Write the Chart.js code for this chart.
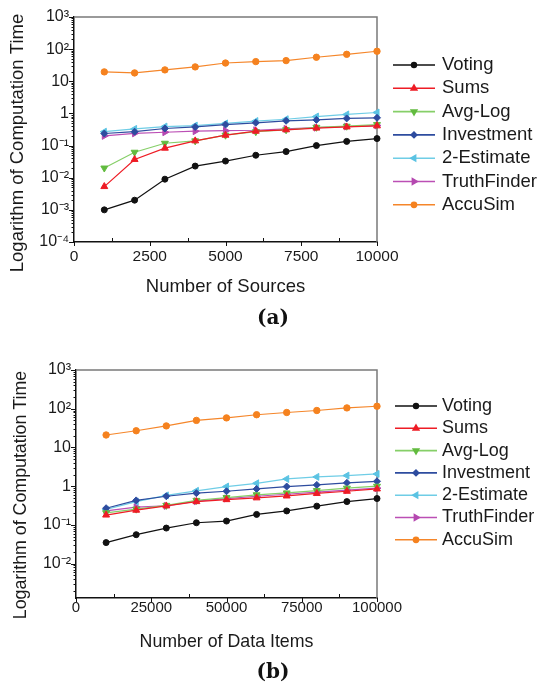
<!DOCTYPE html>
<html>
<head>
<meta charset="utf-8">
<script src="https://cdn.jsdelivr.net/npm/chart.js@4.4.0/dist/chart.umd.min.js"></script>
<style>
  body { margin: 0; background: #fff; width: 541px; height: 683px; position: relative; overflow: hidden; }
  canvas { position: absolute; left: 0; }
  #chartA { top: 0; }
  #chartB { top: 340px; }
  .tag { position: absolute; width: 100px; text-align: center; font: bold 20px "DejaVu Serif", serif; color: #111; }
</style>
</head>
<body>
<canvas id="chartA" width="541" height="330"></canvas>
<canvas id="chartB" width="541" height="343"></canvas>
<div class="tag" style="left:223px; top:305px;">(a)</div>
<div class="tag" style="left:223px; top:659px;">(b)</div>
<script>
// x values
const sourceCounts = [1000, 2000, 3000, 4000, 5000, 6000, 7000, 8000, 9000, 10000];
const itemCounts = [10000, 20000, 30000, 40000, 50000, 60000, 70000, 80000, 90000, 100000];

const methods = ["Voting", "Sums", "Avg-Log", "Investment", "2-Estimate", "TruthFinder", "AccuSim"];

// (a) computation time vs number of sources
const votingA = [0.001, 0.002, 0.009, 0.023, 0.033, 0.05, 0.065, 0.1, 0.135, 0.165];
const sumsA = [0.0053, 0.037, 0.083, 0.14, 0.21, 0.28, 0.31, 0.35, 0.38, 0.41];
const avgLogA = [0.02, 0.062, 0.118, 0.14, 0.21, 0.27, 0.31, 0.37, 0.4, 0.45];
const investmentA = [0.237, 0.27, 0.34, 0.38, 0.45, 0.51, 0.59, 0.63, 0.7, 0.73];
const twoEstimateA = [0.27, 0.33, 0.39, 0.42, 0.49, 0.58, 0.66, 0.8, 0.93, 1.07];
const truthFinderA = [0.2, 0.24, 0.26, 0.28, 0.29, 0.3, 0.33, 0.36, 0.39, 0.42];
const accuSimA = [19.6, 18.2, 22.6, 28, 37, 41, 44, 56, 69, 86];

// (b) computation time vs number of data items
const votingB = [0.035, 0.056, 0.083, 0.114, 0.126, 0.187, 0.23, 0.306, 0.4, 0.48];
const sumsB = [0.18, 0.24, 0.31, 0.4, 0.45, 0.5, 0.56, 0.65, 0.74, 0.85];
const avgLogB = [0.206, 0.256, 0.32, 0.43, 0.51, 0.6, 0.67, 0.77, 0.89, 1.0];
const investmentB = [0.27, 0.43, 0.55, 0.66, 0.74, 0.85, 0.98, 1.08, 1.22, 1.34];
const twoEstimateB = [0.25, 0.4, 0.58, 0.76, 0.98, 1.19, 1.54, 1.74, 1.88, 2.07];
const truthFinderB = [0.23, 0.29, 0.31, 0.41, 0.48, 0.55, 0.62, 0.7, 0.79, 0.89];
const accuSimB = [21, 27, 36, 50, 58, 70, 80, 90, 105, 116];

// tick labels
const decadeValues = [1e-4, 1e-3, 1e-2, 1e-1, 1, 10, 100, 1000];
const decadeLabels = ["10\u207B\u2074", "10\u207B\u00B3", "10\u207B\u00B2", "10\u207B\u00B9", "1", "10", "10\u00B2", "10\u00B3"];

// styles
const lineColors = ["#111111", "#ee1c25", "#86cf68", "#2e4c9f", "#6fcde6", "#bb4fb5", "#f5862a"];
const markColors = ["#111111", "#ee1c25", "#62bb3f", "#2e4c9f", "#5bc3e3", "#b548b0", "#f5821f"];
const markStyles = ["circle", "triangle", "triangle", "rectRot", "triangle", "triangle", "circle"];
const markRotations = [0, 0, 180, 0, 270, 90, 0];
const markRadius = [3, 4, 4, 3.5, 4, 4, 3.2];

const FONT = "'Liberation Sans', Arial, sans-serif";
const Y_TITLE = "Logarithm of Computation Time";

function decadeLabel(v) {
  const i = decadeValues.findIndex(d => Math.abs(d - v) / d < 1e-6);
  return i >= 0 ? decadeLabels[i] : "";
}

const axisDecor = {
  id: "axisDecor",
  beforeDatasetsDraw(chart, args, opts) {
    const { ctx, chartArea: a, scales: { x, y } } = chart;
    ctx.save();
    ctx.strokeStyle = "#7a7a7a";
    ctx.lineWidth = 1.5;
    ctx.beginPath();
    ctx.moveTo(a.left, a.top);
    ctx.lineTo(a.right, a.top);
    ctx.lineTo(a.right, a.bottom);
    ctx.stroke();

    ctx.strokeStyle = "#111";
    ctx.lineWidth = 1;
    const e0 = Math.floor(Math.log10(y.min));
    const e1 = Math.ceil(Math.log10(y.max));
    for (let e = e0; e <= e1; e++) {
      for (let k = 1; k <= 9; k++) {
        const v = k * Math.pow(10, e);
        if (v < y.min * 0.999 || v > y.max * 1.001) continue;
        const py = Math.round(y.getPixelForValue(v)) + 0.5;
        const len = k === 1 ? 5 : 2.5;
        ctx.beginPath();
        ctx.moveTo(a.left - len, py);
        ctx.lineTo(a.left, py);
        ctx.stroke();
      }
    }
    const step = opts.step;
    for (let v = x.min; v <= x.max + 1e-6; v += step / 2) {
      const px = Math.round(x.getPixelForValue(v)) + 0.5;
      const major = Math.abs(v / step - Math.round(v / step)) < 1e-6;
      ctx.beginPath();
      ctx.moveTo(px, a.bottom);
      ctx.lineTo(px, major ? a.bottom + 4 : a.bottom - 4);
      ctx.stroke();
    }

    // y-axis title, sits a bit below the plot centre like the original
    ctx.fillStyle = "#1a1a1a";
    ctx.font = opts.titleSize + "px " + FONT;
    ctx.textAlign = "center";
    ctx.textBaseline = "middle";
    ctx.translate(opts.titleX, opts.titleY);
    ctx.rotate(-Math.PI / 2);
    ctx.fillText(Y_TITLE, 0, 0);
    ctx.restore();
  }
};

const lineLegend = {
  id: "lineLegend",
  afterDraw(chart, args, opts) {
    const ctx = chart.ctx;
    ctx.save();
    ctx.font = opts.font;
    ctx.textBaseline = "middle";
    chart.data.datasets.forEach((ds, i) => {
      const y = opts.top + i * opts.gap;
      ctx.strokeStyle = ds.borderColor;
      ctx.lineWidth = 1.6;
      ctx.beginPath();
      ctx.moveTo(opts.x0, y);
      ctx.lineTo(opts.x1, y);
      ctx.stroke();
      ctx.fillStyle = ds.pointBackgroundColor;
      ctx.strokeStyle = ds.pointBorderColor;
      Chart.helpers.drawPoint(ctx, {
        pointStyle: ds.pointStyle,
        radius: ds.pointRadius * 0.8,
        rotation: ds.pointRotation,
        borderWidth: 1
      }, (opts.x0 + opts.x1) / 2, y);
      ctx.fillStyle = "#1a1a1a";
      ctx.fillText(ds.label, opts.textX, y);
    });
    ctx.restore();
  }
};

function makeDatasets(xs, series) {
  return series.map((vals, i) => ({
    label: methods[i],
    data: xs.map((x, j) => ({ x: x, y: vals[j] })),
    borderColor: lineColors[i],
    backgroundColor: markColors[i],
    pointBackgroundColor: markColors[i],
    pointBorderColor: markColors[i],
    pointStyle: markStyles[i],
    pointRotation: markRotations[i],
    pointRadius: markRadius[i],
    pointBorderWidth: 1,
    borderWidth: 1.2,
    tension: 0,
    clip: 10
  }));
}

function buildChart(id, xs, series, cfg) {
  new Chart(document.getElementById(id), {
    type: "line",
    data: { datasets: makeDatasets(xs, series) },
    plugins: [axisDecor, lineLegend],
    options: {
      responsive: false,
      animation: false,
      layout: { padding: cfg.padding },
      plugins: {
        legend: { display: false },
        tooltip: { enabled: false },
        axisDecor: { step: cfg.xStep, titleX: cfg.yTitleX, titleY: cfg.yTitleY, titleSize: cfg.titleSize },
        lineLegend: cfg.legend
      },
      scales: {
        x: {
          type: "linear",
          min: 0,
          max: cfg.xMax,
          afterFit: s => { s.height = cfg.xHeight; },
          grid: { display: false, drawTicks: false },
          border: { color: "#111", width: 1.5 },
          ticks: {
            stepSize: cfg.xStep,
            padding: cfg.xPad,
            color: "#1a1a1a",
            font: { family: FONT, size: cfg.tickSize },
            callback: v => String(v)
          },
          title: {
            display: true,
            text: cfg.xTitle,
            color: "#1a1a1a",
            font: { family: FONT, size: cfg.titleSize },
            padding: { top: 0, bottom: 2 }
          }
        },
        y: {
          type: "logarithmic",
          min: cfg.yMin,
          max: 1000,
          afterFit: s => { s.width = cfg.yWidth; },
          grid: { display: false, drawTicks: false },
          border: { color: "#111", width: 1.5 },
          ticks: {
            autoSkip: false,
            padding: 5,
            color: "#1a1a1a",
            font: { family: FONT, size: 16 },
            callback: v => decadeLabel(v)
          }
        }
      }
    }
  });
}

buildChart("chartA", sourceCounts,
  [votingA, sumsA, avgLogA, investmentA, twoEstimateA, truthFinderA, accuSimA], {
    padding: { top: 17, right: 164, bottom: 30, left: 0 },
    xMax: 10000, xStep: 2500, xHeight: 58, xPad: 5, yWidth: 74, yMin: 1e-4,
    tickSize: 15.5, titleSize: 18.5, yTitleX: 18, yTitleY: 143,
    xTitle: "Number of Sources",
    legend: { top: 65, gap: 23.3, x0: 393, x1: 435, textX: 442, font: "18.5px " + FONT }
  });

buildChart("chartB", itemCounts,
  [votingB, sumsB, avgLogB, investmentB, twoEstimateB, truthFinderB, accuSimB], {
    padding: { top: 30, right: 164, bottom: 28, left: 0 },
    xMax: 100000, xStep: 25000, xHeight: 57, xPad: 1, yWidth: 76, yMin: 0.0013,
    tickSize: 15, titleSize: 17.8, yTitleX: 21, yTitleY: 155,
    xTitle: "Number of Data Items",
    legend: { top: 66, gap: 22.3, x0: 395, x1: 437, textX: 442, font: "18px " + FONT }
  });
</script>
</body>
</html>
